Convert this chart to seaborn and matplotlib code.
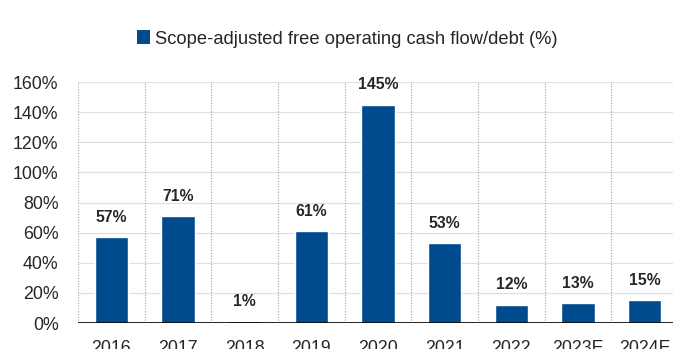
import matplotlib
matplotlib.use("Agg")
import matplotlib.pyplot as plt
import seaborn as sns
import pandas as pd
from matplotlib.patches import Patch

categories = ["2016", "2017", "2018", "2019", "2020", "2021", "2022", "2023E", "2024E"]
values = [57, 71, 1, 61, 145, 53, 12, 13, 15]
series_name = "Scope-adjusted free operating cash flow/debt (%)"
yticks = [0, 20, 40, 60, 80, 100, 120, 140, 160]

sns.set_theme(style="white")
plt.rcParams['font.family'] = ['Liberation Sans', 'DejaVu Sans']

color = "#004B8D"
df = pd.DataFrame({"year": categories, "val": values})

fig = plt.figure(figsize=(6.73, 3.49), dpi=100)
ax = fig.add_axes([78/673, 26/349, 600/673, 241/349])
sns.barplot(data=df, x="year", y="val", color=color, width=0.5, ax=ax, saturation=1)

ax.set_ylim(0, 160)
ax.set_xlim(-0.5, len(categories) - 0.5)
ax.set_yticks(yticks)
ax.set_yticklabels([f"{t}%" for t in yticks], fontsize=12.8)
ax.set_xlabel("")
ax.set_ylabel("")
ax.tick_params(axis='x', labelsize=12.8, length=0, pad=12)
ax.tick_params(axis='y', length=0, pad=14)

for y in yticks[1:]:
    ax.axhline(y, color="#e0e0e0", lw=0.9, zorder=0)
for i in range(len(categories)):
    ax.axvline(i - 0.5, color="#a0a0a0", lw=0.8, ls=(0, (1, 1.5)), zorder=0)
ax.axhline(0, color="black", lw=1.2, zorder=3)

for s in ax.spines.values():
    s.set_visible(False)

for i, v in enumerate(values):
    ax.annotate(f"{v}%", (i, v), xytext=(0, 9), textcoords="offset points",
                ha="center", va="bottom", fontsize=11.3, fontweight="bold")

handle = Patch(facecolor=color, edgecolor="none")
fig.legend([handle], [series_name], loc="center", bbox_to_anchor=(347/673, 1 - 39/349),
           frameon=False, fontsize=13.2, handlelength=0.75, handleheight=0.75, handletextpad=0.25)

fig.savefig("out.png", dpi=100)
